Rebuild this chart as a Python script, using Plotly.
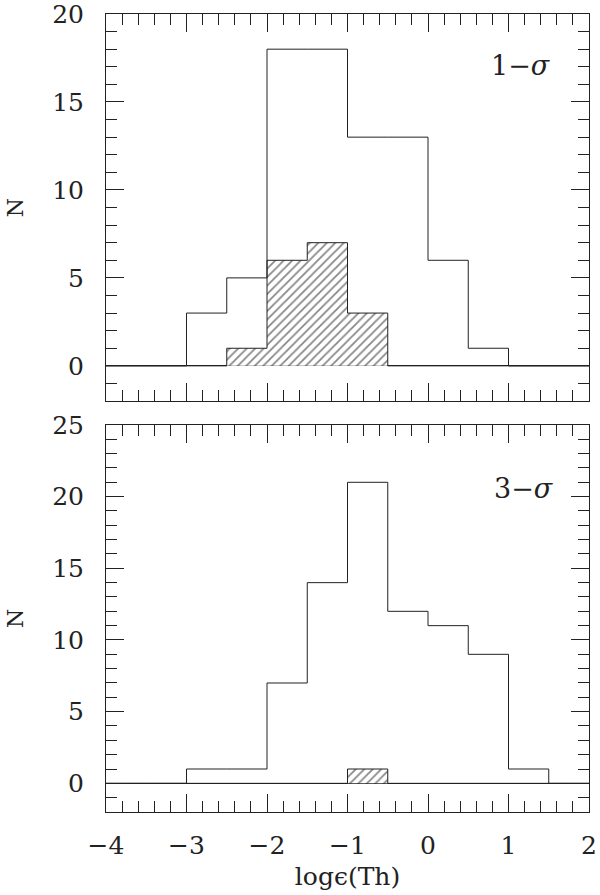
import plotly.graph_objects as go

# bin edges of log eps(Th), width 0.5
edges = [-4.0, -3.5, -3.0, -2.5, -2.0, -1.5, -1.0, -0.5, 0.0, 0.5, 1.0, 1.5, 2.0]

# 1-sigma panel
top_all = [0, 0, 3, 5, 18, 18, 13, 13, 6, 1, 0, 0]
top_hatch = [0, 0, 0, 1, 6, 7, 3, 0, 0, 0, 0, 0]

# 3-sigma panel
bot_all = [0, 0, 1, 1, 7, 14, 21, 12, 11, 9, 1, 0]
bot_hatch = [0, 0, 0, 0, 0, 0, 1, 0, 0, 0, 0, 0]

FONT = "DejaVu Serif"
INK = "#222"

W, H = 600, 895
ML, MR, MT, MB = 106, 11, 14, 83


def step(counts):
    return edges, list(counts) + [counts[-1]]


fig = go.Figure()

for counts, hatch, xa, ya in [
    (top_all, top_hatch, "x", "y"),
    (bot_all, bot_hatch, "x2", "y2"),
]:
    hx, hy = step(hatch)
    fig.add_trace(go.Scatter(
        x=hx, y=hy, mode="lines", line=dict(shape="hv", color=INK, width=1),
        fill="tozeroy", fillcolor="white",
        fillpattern=dict(shape="/", fgcolor="#111", bgcolor="white", size=6, solidity=0.3),
        xaxis=xa, yaxis=ya, showlegend=False, hoverinfo="skip",
    ))
    sx, sy = step(counts)
    fig.add_trace(go.Scatter(
        x=sx, y=sy, mode="lines", line=dict(shape="hv", color=INK, width=1),
        xaxis=xa, yaxis=ya, showlegend=False, hoverinfo="skip",
    ))

axis_common = dict(
    showline=True, linecolor=INK, linewidth=1, mirror="allticks",
    ticks="inside", ticklen=18, tickcolor=INK, tickwidth=1,
    showgrid=False, zeroline=False, automargin=False, ticklabeloverflow="allow",
    tickfont=dict(family=FONT, size=25, color=INK),
)
xcommon = dict(
    axis_common, range=[-4, 2], tick0=-4, dtick=1,
    minor=dict(ticks="inside", ticklen=11, dtick=0.2, tickcolor=INK, showgrid=False),
)
ycommon = dict(
    axis_common, tick0=0, dtick=5,
    zeroline=True, zerolinecolor=INK, zerolinewidth=1,
    minor=dict(ticks="inside", ticklen=11, dtick=1, tickcolor=INK, showgrid=False),
    ticklabelstandoff=16,
    title=dict(text="N", font=dict(family=FONT, size=22, color=INK), standoff=22),
)

fig.update_layout(
    width=W, height=H,
    margin=dict(l=ML, r=MR, t=MT, b=MB),
    paper_bgcolor="white", plot_bgcolor="white",
    font=dict(family=FONT, color=INK),
    xaxis=dict(xcommon, domain=[0, 1], anchor="y", showticklabels=False),
    yaxis=dict(ycommon, domain=[0.515, 1], anchor="x", range=[-2, 20]),
    xaxis2=dict(
        xcommon, domain=[0, 1], anchor="y2", ticklabelstandoff=11,
        title=dict(text="log\u03f5(Th)", font=dict(family=FONT, size=25, color=INK), standoff=8),
    ),
    yaxis2=dict(ycommon, domain=[0, 0.485], anchor="x2", range=[-2, 25]),
)

# panel labels, positioned by pixel then converted to paper coords
plot_w = W - ML - MR
plot_h = H - MT - MB
for text, px, py in [("1\u2212<i>\u03c3</i>", 553, 65), ("3\u2212<i>\u03c3</i>", 556, 488)]:
    fig.add_annotation(
        text=text, x=(px - ML) / plot_w, y=1 - (py - MT) / plot_h,
        xref="paper", yref="paper", xanchor="right", yanchor="middle",
        showarrow=False, font=dict(family=FONT, size=27, color=INK),
    )

# drop the default body margin so the figure sits at the page corner
fig.write_html(
    "out.html",
    config={"displayModeBar": False},
    post_script="document.body.style.margin = '0';",
)
